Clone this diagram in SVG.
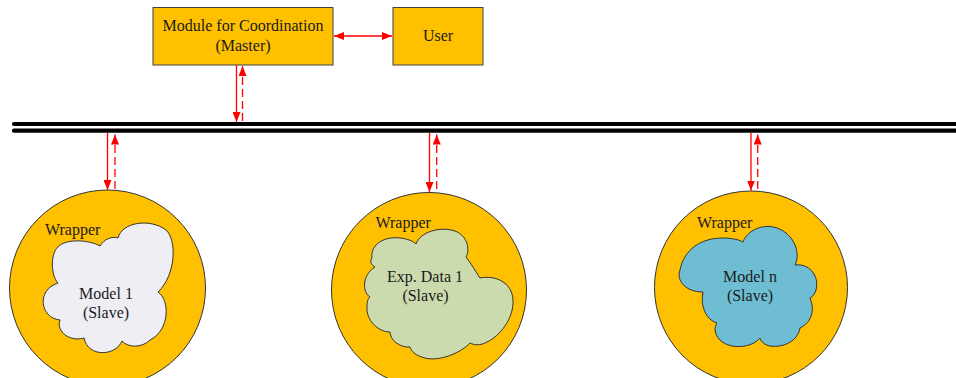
<svg xmlns="http://www.w3.org/2000/svg" width="956" height="378" viewBox="0 0 956 378">
<style>
.box{fill:#FFC000;stroke:#404040;stroke-width:1}
.wrap{fill:#FFC000;stroke:#333;stroke-width:1}
.cloud{stroke:#333;stroke-width:1}
text{font-family:"Liberation Serif","Times New Roman",serif;font-size:16px;fill:#1a1a1a}
.c{text-anchor:middle}
.bus{stroke:#000;stroke-width:4.2;stroke-linecap:round;fill:none}
.solid{stroke:#FF0000;stroke-width:1.3;fill:none}
.dash{stroke:#FF0000;stroke-width:1.3;fill:none;stroke-dasharray:8,4}
</style>
<defs>
<marker id="ah" markerUnits="userSpaceOnUse" markerWidth="11" markerHeight="8" refX="10" refY="4" orient="auto-start-reverse">
<path d="M0,0 L10,4 L0,8 Z" fill="#FF0000"/>
</marker>
</defs>
<rect width="956" height="378" fill="#fff"/>

<g id="bus">
<line class="bus" x1="14" y1="124" x2="960" y2="124"/>
<line class="bus" x1="14" y1="130.7" x2="960" y2="130.7"/>
</g>

<g id="master">
<rect class="box" x="153" y="7.5" width="180" height="57.5"/>
<text class="c" x="243" y="31">Module for Coordination</text>
<text class="c" x="243" y="51">(Master)</text>
</g>

<g id="user">
<rect class="box" x="393" y="7.5" width="90" height="57.5"/>
<text class="c" x="438" y="41">User</text>
</g>

<g id="wrapper1">
<circle class="wrap" cx="107.5" cy="288" r="98"/>
<text x="45" y="235">Wrapper</text>
<path class="cloud" fill="#EFEEF4" d="M58,283 C51,276 50,254 58,247 C66,238 90,240 100,246 C104,239 112,236 118,238 C122,222 150,218 166,230 C177,240 176,275 158,292 C170,300 170,330 150,340 C142,348 128,348 122,341 C116,356 88,358 84,338 C70,342 56,332 60,320 C40,318 36,290 58,283 Z"/>
<text class="c" x="106" y="299">Model 1</text>
<text class="c" x="106" y="318">(Slave)</text>
</g>

<g id="wrapper2">
<circle class="wrap" cx="429" cy="290" r="97.5"/>
<text x="375.5" y="228">Wrapper</text>
<path class="cloud" fill="#CCDBAE" d="M372,258 C370,244 385,236 400,238 C408,239 413,241 416,244 C420,232 440,226 455,231 C468,236 470,250 466,257 C470,262 476,272 480,278 C495,275 512,282 513,300 C514,318 500,336 487,342 C480,346 474,345 470,343 C462,352 440,362 425,358 C416,356 411,351 410,347 C400,348 390,340 390,332 C378,332 366,320 367,307 C367,302 368,298 370,297 C362,292 362,275 375,267 C370,264 370,260 372,258 Z"/>
<text class="c" x="425" y="282">Exp. Data 1</text>
<text class="c" x="425.5" y="301">(Slave)</text>
</g>

<g id="wrapper3">
<circle class="wrap" cx="751" cy="287.5" r="96.5"/>
<text x="697" y="227.5">Wrapper</text>
<path class="cloud" fill="#6FBDD2" d="M703,292 C685,292 676,280 680,270 C684,250 700,238 723,238 C732,238 740,240 743,242 C748,228 770,220 786,233 C796,241 800,255 795,265 C808,263 820,275 816,290 C815,294 812,297 810,298 C815,310 812,322 800,328 C798,340 785,348 770,346 C765,345 761,342 760,338 C752,348 730,350 720,340 C714,334 714,327 717,323 C706,320 700,306 703,292 Z"/>
<text class="c" x="750" y="282">Model n</text>
<text class="c" x="750" y="301">(Slave)</text>
</g>

<g id="connectors">
<line class="solid" x1="334" y1="36" x2="392" y2="36" marker-start="url(#ah)" marker-end="url(#ah)"/>
<line class="solid" x1="236.5" y1="65" x2="236.5" y2="122" marker-end="url(#ah)"/>
<line class="dash" x1="242.5" y1="121" x2="242.5" y2="66" marker-end="url(#ah)"/>
<line class="solid" x1="107.5" y1="133" x2="107.5" y2="190" marker-end="url(#ah)"/>
<line class="dash" x1="115" y1="189" x2="115" y2="134.5" marker-end="url(#ah)"/>
<line class="solid" x1="429.5" y1="133" x2="429.5" y2="192" marker-end="url(#ah)"/>
<line class="dash" x1="436.7" y1="189" x2="436.7" y2="134.5" marker-end="url(#ah)"/>
<line class="solid" x1="751" y1="133" x2="751" y2="190.5" marker-end="url(#ah)"/>
<line class="dash" x1="757.7" y1="189" x2="757.7" y2="134.5" marker-end="url(#ah)"/>
</g>
</svg>
